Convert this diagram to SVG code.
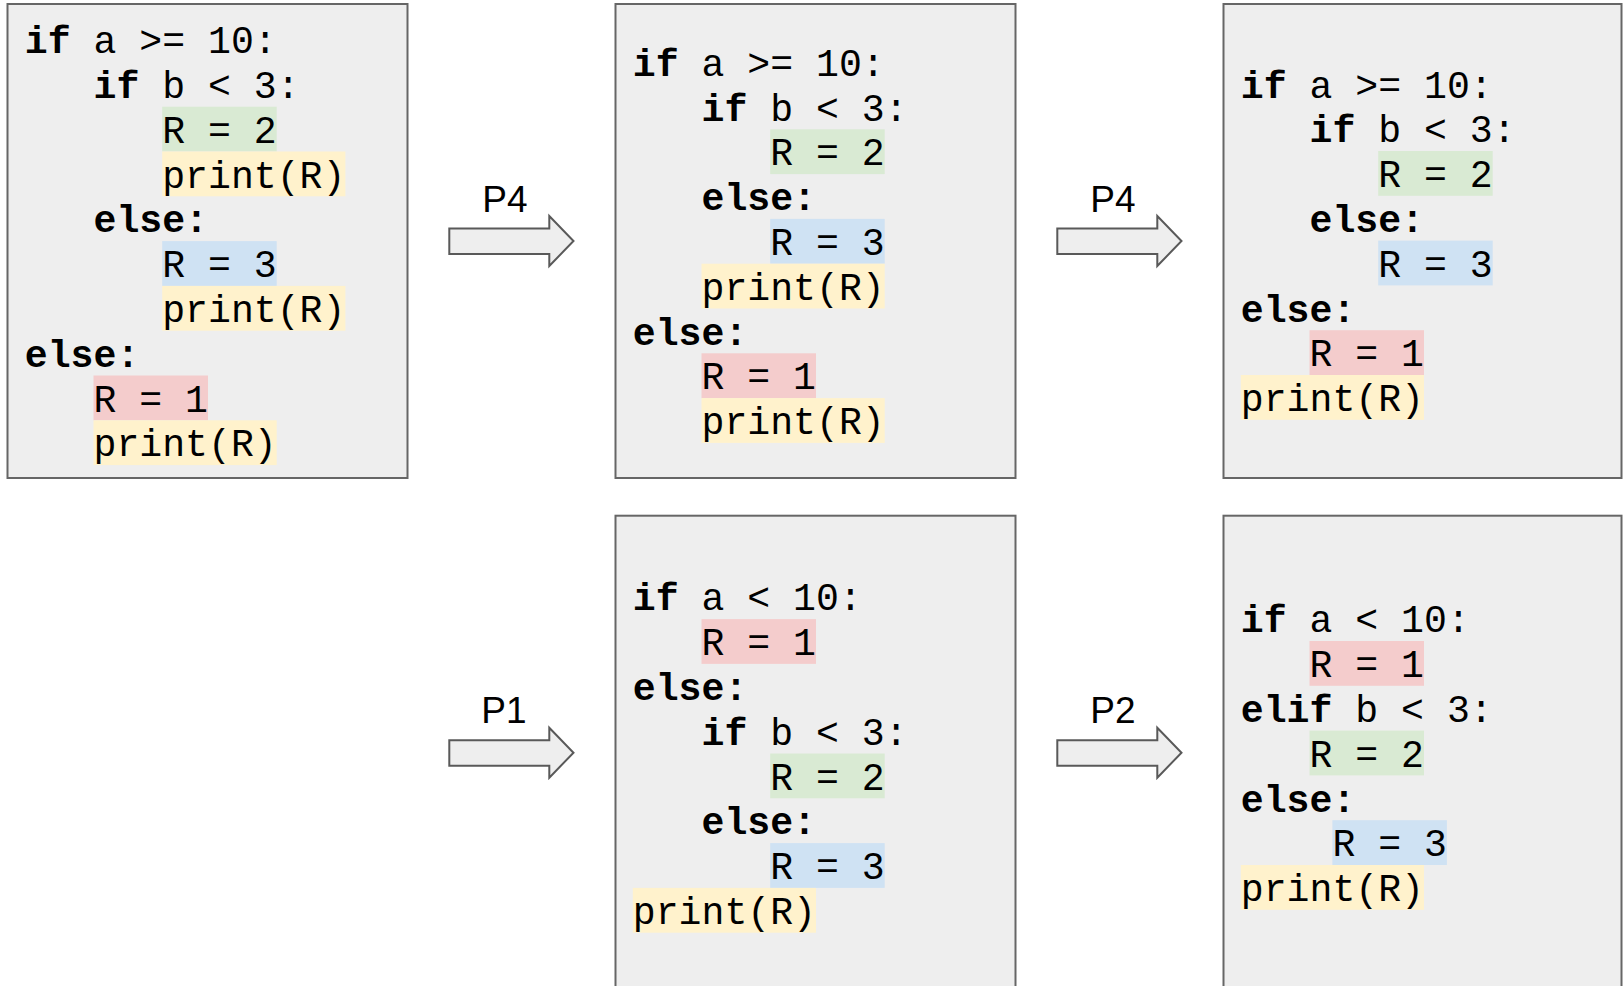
<svg xmlns="http://www.w3.org/2000/svg" width="1623" height="986" viewBox="0 0 1623 986" xml:space="preserve">
<style>
.box{fill:#eeeeee;stroke:#666666;stroke-width:2}
.code{font-family:"Liberation Mono","Courier New",monospace;font-size:38.17px;fill:#000}
.kw{font-weight:bold}
.g{fill:#d9ead3}
.y{fill:#fff2cc}
.b{fill:#cfe2f3}
.r{fill:#f4cccc}
.arrow{fill:#eeeeee;stroke:#595959;stroke-width:2}
.lbl{font-family:"Liberation Sans",Arial,sans-serif;font-size:37px;fill:#000;text-anchor:middle}
</style>
<defs>
<polygon id="arw" points="449.3,228.5 549.3,228.5 549.3,216 573.5,241 549.3,266 549.3,254 449.3,254"/>
</defs>
<rect width="1623" height="986" fill="#ffffff"/>

<g id="box1">
<rect class="box" x="7.5" y="4" width="400" height="474"/>
<rect class="g" x="162.2" y="106.7" width="114.5" height="44.8"/>
<rect class="y" x="162.2" y="151.5" width="183.2" height="44.8"/>
<rect class="b" x="162.2" y="241.1" width="114.5" height="44.8"/>
<rect class="y" x="162.2" y="285.9" width="183.2" height="44.8"/>
<rect class="r" x="93.5" y="375.5" width="114.5" height="44.8"/>
<rect class="y" x="93.5" y="420.3" width="183.2" height="44.8"/>
<text class="code" x="24.8" y="53.2"><tspan class="kw">if</tspan> a &gt;= 10:</text>
<text class="code" x="93.5" y="98"><tspan class="kw">if</tspan> b &lt; 3:</text>
<text class="code" x="162.2" y="142.8">R = 2</text>
<text class="code" x="162.2" y="187.6">print(R)</text>
<text class="code kw" x="93.5" y="232.4">else:</text>
<text class="code" x="162.2" y="277.2">R = 3</text>
<text class="code" x="162.2" y="322">print(R)</text>
<text class="code kw" x="24.8" y="366.8">else:</text>
<text class="code" x="93.5" y="411.6">R = 1</text>
<text class="code" x="93.5" y="456.4">print(R)</text>
</g>

<g id="box2">
<rect class="box" x="615.5" y="4" width="400" height="474"/>
<rect class="g" x="770.2" y="129.3" width="114.5" height="44.8"/>
<rect class="b" x="770.2" y="218.9" width="114.5" height="44.8"/>
<rect class="y" x="701.5" y="263.7" width="183.2" height="44.8"/>
<rect class="r" x="701.5" y="353.3" width="114.5" height="44.8"/>
<rect class="y" x="701.5" y="398.1" width="183.2" height="44.8"/>
<text class="code" x="632.8" y="75.8"><tspan class="kw">if</tspan> a &gt;= 10:</text>
<text class="code" x="701.5" y="120.6"><tspan class="kw">if</tspan> b &lt; 3:</text>
<text class="code" x="770.2" y="165.4">R = 2</text>
<text class="code kw" x="701.5" y="210.2">else:</text>
<text class="code" x="770.2" y="255">R = 3</text>
<text class="code" x="701.5" y="299.8">print(R)</text>
<text class="code kw" x="632.8" y="344.6">else:</text>
<text class="code" x="701.5" y="389.4">R = 1</text>
<text class="code" x="701.5" y="434.2">print(R)</text>
</g>

<g id="box3">
<rect class="box" x="1223.5" y="4" width="398" height="474"/>
<rect class="g" x="1378.2" y="151" width="114.5" height="44.8"/>
<rect class="b" x="1378.2" y="240.6" width="114.5" height="44.8"/>
<rect class="r" x="1309.5" y="330.2" width="114.5" height="44.8"/>
<rect class="y" x="1240.8" y="375" width="183.2" height="44.8"/>
<text class="code" x="1240.8" y="97.5"><tspan class="kw">if</tspan> a &gt;= 10:</text>
<text class="code" x="1309.5" y="142.3"><tspan class="kw">if</tspan> b &lt; 3:</text>
<text class="code" x="1378.2" y="187.1">R = 2</text>
<text class="code kw" x="1309.5" y="231.9">else:</text>
<text class="code" x="1378.2" y="276.7">R = 3</text>
<text class="code kw" x="1240.8" y="321.5">else:</text>
<text class="code" x="1309.5" y="366.3">R = 1</text>
<text class="code" x="1240.8" y="411.1">print(R)</text>
</g>

<g id="box4">
<rect class="box" x="615.5" y="515.7" width="400" height="480"/>
<rect class="r" x="701.5" y="619.1" width="114.5" height="44.8"/>
<rect class="g" x="770.2" y="753.5" width="114.5" height="44.8"/>
<rect class="b" x="770.2" y="843.1" width="114.5" height="44.8"/>
<rect class="y" x="632.8" y="887.9" width="183.2" height="44.8"/>
<text class="code" x="632.8" y="610.4"><tspan class="kw">if</tspan> a &lt; 10:</text>
<text class="code" x="701.5" y="655.2">R = 1</text>
<text class="code kw" x="632.8" y="700">else:</text>
<text class="code" x="701.5" y="744.8"><tspan class="kw">if</tspan> b &lt; 3:</text>
<text class="code" x="770.2" y="789.6">R = 2</text>
<text class="code kw" x="701.5" y="834.4">else:</text>
<text class="code" x="770.2" y="879.2">R = 3</text>
<text class="code" x="632.8" y="924">print(R)</text>
</g>

<g id="box5">
<rect class="box" x="1223.5" y="515.7" width="398" height="480"/>
<rect class="r" x="1309.5" y="641" width="114.5" height="44.8"/>
<rect class="g" x="1309.5" y="730.6" width="114.5" height="44.8"/>
<rect class="b" x="1332.4" y="820.2" width="114.5" height="44.8"/>
<rect class="y" x="1240.8" y="865" width="183.2" height="44.8"/>
<text class="code" x="1240.8" y="632.3"><tspan class="kw">if</tspan> a &lt; 10:</text>
<text class="code" x="1309.5" y="677.1">R = 1</text>
<text class="code" x="1240.8" y="721.9"><tspan class="kw">elif</tspan> b &lt; 3:</text>
<text class="code" x="1309.5" y="766.7">R = 2</text>
<text class="code kw" x="1240.8" y="811.5">else:</text>
<text class="code" x="1332.4" y="856.3">R = 3</text>
<text class="code" x="1240.8" y="901.1">print(R)</text>
</g>

<g id="connectors">
<use href="#arw" class="arrow"/>
<use href="#arw" class="arrow" x="608"/>
<use href="#arw" class="arrow" y="511.7"/>
<use href="#arw" class="arrow" x="608" y="511.7"/>
<text class="lbl" x="505" y="211.7">P4</text>
<text class="lbl" x="1113" y="211.7">P4</text>
<text class="lbl" x="504" y="723.4">P1</text>
<text class="lbl" x="1113" y="723.4">P2</text>
</g>
</svg>
